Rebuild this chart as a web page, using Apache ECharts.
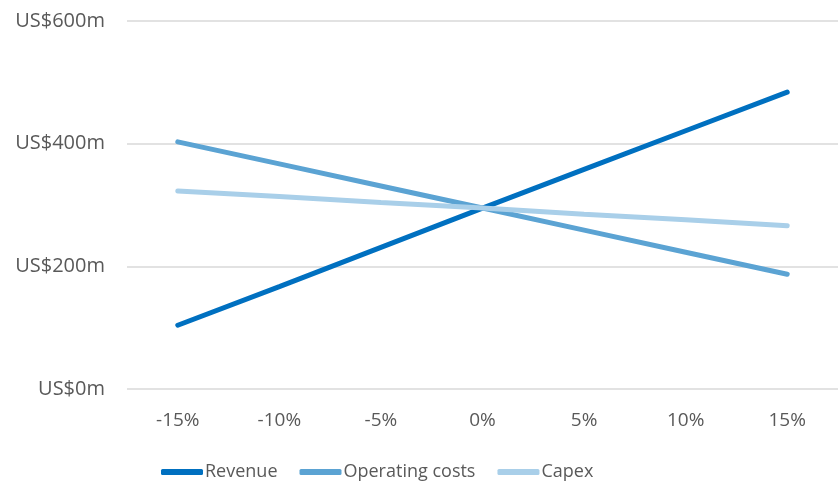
<!DOCTYPE html>
<html>
<head>
<meta charset="utf-8">
<script src="https://cdn.jsdelivr.net/npm/echarts@6/dist/echarts.min.js"></script>
<style>
body{margin:0;background:#fff;}
#main{width:838px;height:484px;}
</style>
</head>
<body>
<div id="main"></div>
<script>
var categories = ['-15%', '-10%', '-5%', '0%', '5%', '10%', '15%'];
var revenue = [104, 167, 231, 295, 358, 421, 484];
var operatingCosts = [403, 367, 331, 295, 259, 223, 187];
var capex = [323, 314, 304, 295, 285, 276, 266];
var yTicks = [0, 200, 400, 600];

var colors = ['#0070C0', '#5BA3D3', '#A9CFE9'];
var txt = '#595959';

function chart(){
	var myChart = echarts.init(document.getElementById('main'));
	function line(name, data, color){
		return {
			name: name,
			type: 'line',
			data: data,
			symbol: 'none',
			lineStyle: {width: 5, color: color, cap: 'round'},
			itemStyle: {color: color}
		};
	}
	var option = {
		animation: false,
		grid: {left: 127, right: 0, top: 21, bottom: 95},
		legend: {
			bottom: -2,
			left: 156,
			icon: 'roundRect',
			itemWidth: 42,
			itemHeight: 6,
			itemGap: 22,
			textStyle: {color: txt, fontSize: 18, fontFamily: 'Open Sans', padding: [0, 0, 0, -3]},
			data: ['Revenue', 'Operating costs', 'Capex']
		},
		xAxis: {
			type: 'category',
			data: categories,
			axisLine: {show: false},
			axisTick: {show: false},
			axisLabel: {color: txt, fontSize: 19, fontFamily: 'Open Sans', margin: 22}
		},
		yAxis: {
			type: 'value',
			min: yTicks[0],
			max: yTicks[yTicks.length - 1],
			interval: 200,
			axisLine: {show: false},
			axisTick: {show: false},
			splitLine: {lineStyle: {color: '#D9D9D9', width: 1.5}},
			axisLabel: {
				color: txt, fontSize: 20, fontFamily: 'Open Sans', margin: 22,
				formatter: function(v){ return 'US$' + v + 'm'; }
			}
		},
		series: [
			line('Revenue', revenue, colors[0]),
			line('Operating costs', operatingCosts, colors[1]),
			line('Capex', capex, colors[2])
		]
	};
	myChart.setOption(option);
}
chart();
</script>
</body>
</html>
